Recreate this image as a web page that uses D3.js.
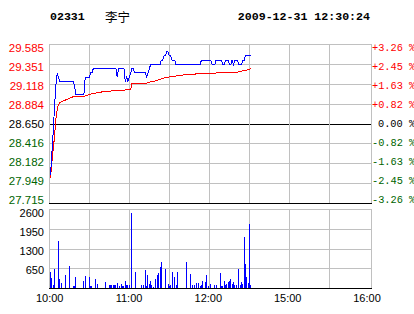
<!DOCTYPE html>
<html>
<head>
<meta charset="utf-8">
<script src="https://cdn.jsdelivr.net/npm/d3@7"></script>
<style>
  body { margin: 0; background: #fff; }
  svg { display: block; }
</style>
</head>
<body>
<div id="chart"></div>
<script>
// header
const stockCode = "02331";
const stockName = "李宁";
const stamp = "2009-12-31 12:30:24";

// axes
const prevClose = 28.650;
const priceTicks = [27.715, 27.949, 28.182, 28.416, 28.650, 28.884, 29.118, 29.351, 29.585];
const pctLabels = ["-3.26 %", "-2.45 %", "-1.63 %", "-0.82 %", "0.00 %", "+0.82 %", "+1.63 %", "+2.45 %", "+3.26 %"];
const volTicks = [650, 1300, 1950, 2600];
const timeLabels = ["10:00", "11:00", "12:00", "15:00", "16:00"];

// one value per trading minute, 10:00 .. 12:30
const price = [
  28.05, 28.30, 28.55, 28.85, 29.10, 29.25, 29.20, 29.15, 29.15, 29.15,
  29.15, 29.15, 29.15, 29.15, 29.15, 29.15, 29.15, 29.15, 29.10, 29.00,
  29.00, 29.00, 29.00, 29.00, 29.00, 29.00, 29.20, 29.20, 29.20, 29.20,
  29.25, 29.25, 29.30, 29.30, 29.30, 29.30, 29.30, 29.30, 29.30, 29.30,
  29.30, 29.30, 29.30, 29.30, 29.30, 29.30, 29.30, 29.30, 29.30, 29.30,
  29.20, 29.30, 29.30, 29.30, 29.30, 29.30, 29.15, 29.20, 29.15, 29.20,
  29.25, 29.30, 29.30, 29.25, 29.25, 29.25, 29.25, 29.25, 29.25, 29.25,
  29.25, 29.25, 29.20, 29.25, 29.30, 29.35, 29.35, 29.35, 29.35, 29.35,
  29.35, 29.35, 29.35, 29.40, 29.40, 29.45, 29.45, 29.50, 29.50, 29.45,
  29.45, 29.40, 29.40, 29.40, 29.35, 29.35, 29.35, 29.35, 29.35, 29.35,
  29.35, 29.35, 29.35, 29.35, 29.35, 29.35, 29.35, 29.35, 29.35, 29.35,
  29.35, 29.35, 29.35, 29.40, 29.40, 29.40, 29.40, 29.40, 29.40, 29.40,
  29.40, 29.35, 29.35, 29.35, 29.40, 29.40, 29.40, 29.40, 29.40, 29.35,
  29.35, 29.40, 29.40, 29.40, 29.35, 29.35, 29.40, 29.35, 29.40, 29.40,
  29.40, 29.35, 29.35, 29.35, 29.40, 29.40, 29.45, 29.45, 29.45, 29.45,
  29.45
];

const avgPrice = [
  28.01, 28.19, 28.35, 28.50, 28.70, 28.82, 28.88, 28.90, 28.91, 28.92,
  28.925, 28.93, 28.94, 28.945, 28.95, 28.96, 28.965, 28.97, 28.97, 28.97,
  28.97, 28.97, 28.97, 28.97, 28.97, 28.97, 28.98, 28.985, 28.99, 28.995,
  29.00, 29.005, 29.01, 29.01, 29.015, 29.015, 29.02, 29.02, 29.025, 29.03,
  29.03, 29.03, 29.035, 29.035, 29.035, 29.035, 29.04, 29.04, 29.04, 29.04,
  29.04, 29.04, 29.045, 29.045, 29.045, 29.045, 29.05, 29.05, 29.05, 29.05,
  29.05, 29.125, 29.13, 29.13, 29.13, 29.13, 29.13, 29.13, 29.13, 29.13,
  29.13, 29.13, 29.13, 29.135, 29.14, 29.145, 29.15, 29.15, 29.155, 29.16,
  29.16, 29.17, 29.175, 29.18, 29.185, 29.19, 29.195, 29.20, 29.20, 29.205,
  29.205, 29.21, 29.21, 29.21, 29.215, 29.215, 29.215, 29.22, 29.22, 29.225,
  29.23, 29.23, 29.23, 29.23, 29.235, 29.235, 29.235, 29.235, 29.235, 29.24,
  29.24, 29.24, 29.24, 29.24, 29.24, 29.24, 29.24, 29.24, 29.24, 29.24,
  29.24, 29.245, 29.245, 29.245, 29.25, 29.25, 29.25, 29.25, 29.25, 29.25,
  29.25, 29.25, 29.255, 29.255, 29.255, 29.255, 29.26, 29.26, 29.26, 29.26,
  29.26, 29.265, 29.27, 29.27, 29.275, 29.28, 29.28, 29.285, 29.29, 29.295,
  29.30
];

const volume = [
  540, 335, 107, 627, 0, 0, 1570, 302, 172, 0,
  0, 432, 0, 0, 725, 0, 0, 75, 75, 367,
  0, 0, 0, 0, 0, 237, 400, 0, 0, 367,
  75, 75, 0, 0, 302, 150, 0, 0, 0, 0,
  0, 205, 0, 0, 107, 107, 130, 107, 107, 107,
  172, 0, 85, 150, 85, 85, 237, 107, 107, 107,
  0, 2490, 0, 0, 540, 0, 0, 0, 107, 0,
  107, 595, 85, 432, 150, 237, 107, 65, 0, 302,
  455, 500, 692, 887, 0, 0, 627, 0, 150, 85,
  107, 540, 0, 367, 107, 540, 0, 0, 0, 0,
  0, 0, 887, 0, 0, 465, 107, 0, 107, 172,
  0, 172, 85, 107, 237, 0, 205, 432, 85, 0,
  150, 0, 0, 107, 107, 0, 0, 500, 85, 85,
  237, 107, 150, 205, 237, 302, 150, 205, 107, 107,
  0, 650, 107, 205, 150, 1710, 790, 367, 172, 2110,
  107
];

const width = 414;
const height = 314;
const gridColor = "#c0c0c0";
const red = "#ff0000";
const green = "#006400";

const svg = d3.select("#chart")
  .append("svg")
  .attr("width", width)
  .attr("height", height);

// scales (240 trading minutes: 10:00-12:30 and 14:30-16:00)
const x = d3.scaleLinear().domain([0, 240]).range([50.5, 371]);
const xGrid = d3.scaleLinear().domain([0, 240]).range([49, 369]);
const xLab = d3.scalePoint().domain(timeLabels).range([49.7, 367]);

const y = d3.scaleLinear().domain([27.715, 29.585]).range([203.5, 44.5]);
const yLab = y.copy().range([200, 47.5]);
const yVol = d3.scaleLinear().domain([0, 2600]).range([288.5, 209.5]);
const yVolLab = yVol.copy().range([289.3, 213.3]);

const px = v => Math.floor(v) + 0.5;
const gridMinutes = d3.range(0, 241, 30);

// header
const head = svg.append("g").style("font-size", "11.6px");
head.append("text")
  .attr("x", 50).attr("y", 16)
  .attr("dominant-baseline", "central")
  .style("font-family", "'Liberation Mono', monospace")
  .style("font-weight", "bold")
  .text(stockCode);
head.append("text")
  .attr("x", 105).attr("y", 16)
  .attr("dominant-baseline", "central")
  .style("font-family", "'Noto Sans CJK SC', sans-serif")
  .style("font-size", "12.5px")
  .text(stockName);
head.append("text")
  .attr("x", 370).attr("y", 16)
  .attr("text-anchor", "end")
  .attr("dominant-baseline", "central")
  .style("font-family", "'Liberation Mono', monospace")
  .style("font-weight", "bold")
  .text(stamp);

// grids
const grid = svg.append("g")
  .attr("stroke", gridColor)
  .attr("shape-rendering", "crispEdges");

// price panel horizontals
grid.selectAll("line.h")
  .data(priceTicks)
  .join("line")
  .attr("x1", 49).attr("x2", 372)
  .attr("y1", d => px(y(d))).attr("y2", d => px(y(d)))
  .attr("stroke", d => (d === prevClose || d === priceTicks[0]) ? "#000" : gridColor);

// volume panel horizontals
grid.selectAll("line.v")
  .data([0].concat(volTicks))
  .join("line")
  .attr("x1", 49).attr("x2", 372)
  .attr("y1", d => px(yVol(d))).attr("y2", d => px(yVol(d)))
  .attr("stroke", d => d === 0 ? "#000" : gridColor);

// verticals (both panels)
[[px(y(priceTicks[8])), px(y(priceTicks[0])) - 1], [px(yVol(2600)), px(yVol(0)) - 1]].forEach(([t, b]) => {
  grid.append("g")
    .selectAll("line")
    .data(gridMinutes)
    .join("line")
    .attr("x1", d => d === 240 ? 371.5 : px(xGrid(d)))
    .attr("x2", d => d === 240 ? 371.5 : px(xGrid(d)))
    .attr("y1", t).attr("y2", b);
});

// volume bars
svg.append("g")
  .attr("fill", "#0000ff")
  .attr("shape-rendering", "crispEdges")
  .selectAll("rect")
  .data(volume.map((v, i) => ({ m: i, v })).filter(d => d.v > 0))
  .join("rect")
  .attr("x", d => Math.floor(x(d.m)))
  .attr("width", 1)
  .attr("y", d => Math.round(yVol(d.v)))
  .attr("height", d => 288 - Math.round(yVol(d.v)));

// redraw volume base line over bars
svg.append("line")
  .attr("x1", 49).attr("x2", 372)
  .attr("y1", px(yVol(0))).attr("y2", px(yVol(0)))
  .attr("stroke", "#000")
  .attr("shape-rendering", "crispEdges");

// price lines
const line = d3.line()
  .x((d, i) => x(i))
  .y(d => y(d));

svg.append("path")
  .datum(avgPrice)
  .attr("d", line)
  .attr("fill", "none")
  .attr("stroke", red)
  .attr("stroke-width", 1)
  .attr("shape-rendering", "crispEdges");

svg.append("path")
  .datum(price)
  .attr("d", line)
  .attr("fill", "none")
  .attr("stroke", "#0000ff")
  .attr("stroke-width", 1)
  .attr("shape-rendering", "crispEdges");

// left price labels
const labelColor = v => v > prevClose + 1e-9 ? red : (v < prevClose - 1e-9 ? green : "#000");

svg.append("g")
  .style("font-family", "'Liberation Sans', Arial, sans-serif")
  .style("font-size", "11.5px")
  .attr("text-anchor", "end")
  .selectAll("text")
  .data(priceTicks)
  .join("text")
  .attr("x", 44)
  .attr("y", d => yLab(d))
  .attr("dominant-baseline", "central")
  .attr("fill", labelColor)
  .text(d => d3.format(".3f")(d));

// right percentage labels
svg.append("g")
  .style("font-family", "'Liberation Mono', monospace")
  .style("font-size", "10.3px")
  .selectAll("text")
  .data(priceTicks)
  .join("text")
  .attr("x", (d, i) => pctLabels[i].startsWith("0") ? 378 : 372)
  .attr("y", d => yLab(d))
  .attr("dominant-baseline", "central")
  .attr("fill", labelColor)
  .text((d, i) => pctLabels[i]);

// volume labels
svg.append("g")
  .style("font-family", "'Liberation Sans', Arial, sans-serif")
  .style("font-size", "11px")
  .attr("text-anchor", "end")
  .selectAll("text")
  .data(volTicks)
  .join("text")
  .attr("x", 44)
  .attr("y", d => yVolLab(d))
  .attr("dominant-baseline", "central")
  .text(d => d);

// time labels
svg.append("g")
  .style("font-family", "'Liberation Sans', Arial, sans-serif")
  .style("font-size", "11px")
  .attr("text-anchor", "middle")
  .selectAll("text")
  .data(timeLabels)
  .join("text")
  .attr("x", d => xLab(d))
  .attr("y", 298.3)
  .attr("dominant-baseline", "central")
  .text(d => d);
</script>
</body>
</html>
